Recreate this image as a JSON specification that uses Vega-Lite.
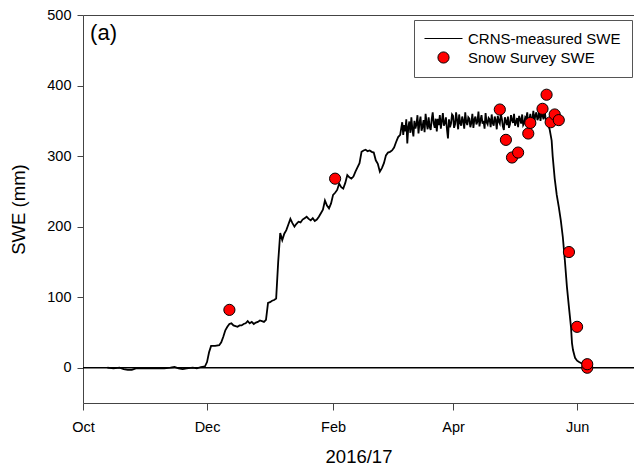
{
"$schema": "https://vega.github.io/schema/vega-lite/v6.json",
"width": 551, "height": 388,
"autosize": {"type": "none"},
"padding": {"left": 83, "top": 15, "right": 0, "bottom": 67},
"background": "white",
"config": {"font": "Liberation Sans", "view": {"stroke": null},
  "axis": {"grid": false, "domainColor": "#444", "tickColor": "#444", "labelColor": "black", "titleColor": "black", "labelFontSize": 14.5, "titleFontSize": 18.5, "titleFontWeight": "normal", "labelFont": "Liberation Sans", "titleFont": "Liberation Sans"}},
"resolve": {"axis": {"x": "independent"}},
"datasets": {
"zero": [{"v": 0}],
"panel": [{"label": "(a)"}],
"crns": [
{"date":"2016-10-13","swe":0},{"date":"2016-10-16","swe":-1},{"date":"2016-10-19","swe":0},{"date":"2016-10-21","swe":-2},{"date":"2016-10-23","swe":-3},{"date":"2016-10-25","swe":-3},{"date":"2016-10-27","swe":-1},{"date":"2016-10-31","swe":-1},{"date":"2016-11-05","swe":-1},{"date":"2016-11-10","swe":-1},{"date":"2016-11-13","swe":0},{"date":"2016-11-15","swe":1},{"date":"2016-11-17","swe":-1},{"date":"2016-11-19","swe":-2},{"date":"2016-11-21","swe":-1},{"date":"2016-11-24","swe":0},{"date":"2016-11-26","swe":-1},{"date":"2016-11-28","swe":1},{"date":"2016-11-30","swe":2},
{"date":"2016-12-01","swe":8},{"date":"2016-12-02","swe":22},{"date":"2016-12-03","swe":31},{"date":"2016-12-05","swe":31},{"date":"2016-12-07","swe":32},{"date":"2016-12-08","swe":36},{"date":"2016-12-09","swe":44},{"date":"2016-12-10","swe":53},{"date":"2016-12-11","swe":58},{"date":"2016-12-12","swe":62},{"date":"2016-12-13","swe":63},{"date":"2016-12-14","swe":60},{"date":"2016-12-15","swe":59},{"date":"2016-12-16","swe":58},{"date":"2016-12-17","swe":60},{"date":"2016-12-18","swe":60},{"date":"2016-12-19","swe":62},{"date":"2016-12-20","swe":63},{"date":"2016-12-21","swe":66},{"date":"2016-12-22","swe":63},{"date":"2016-12-23","swe":65},{"date":"2016-12-24","swe":62},{"date":"2016-12-25","swe":64},{"date":"2016-12-26","swe":65},{"date":"2016-12-27","swe":67},{"date":"2016-12-28","swe":66},{"date":"2016-12-29","swe":65},{"date":"2016-12-30","swe":68},{"date":"2016-12-31","swe":92},
{"date":"2017-01-01","swe":93},{"date":"2017-01-02","swe":95},{"date":"2017-01-03","swe":96},{"date":"2017-01-04","swe":98},{"date":"2017-01-05","swe":150},{"date":"2017-01-06","swe":191},{"date":"2017-01-07","swe":181},{"date":"2017-01-08","swe":190},{"date":"2017-01-09","swe":195},{"date":"2017-01-10","swe":203},{"date":"2017-01-11","swe":211},{"date":"2017-01-12","swe":205},{"date":"2017-01-13","swe":200},{"date":"2017-01-14","swe":204},{"date":"2017-01-15","swe":207},{"date":"2017-01-16","swe":206},{"date":"2017-01-17","swe":210},{"date":"2017-01-18","swe":212},{"date":"2017-01-19","swe":214},{"date":"2017-01-20","swe":211},{"date":"2017-01-21","swe":209},{"date":"2017-01-22","swe":212},{"date":"2017-01-23","swe":208},{"date":"2017-01-24","swe":210},{"date":"2017-01-25","swe":214},{"date":"2017-01-26","swe":219},{"date":"2017-01-27","swe":224},{"date":"2017-01-28","swe":237},{"date":"2017-01-29","swe":230},{"date":"2017-01-30","swe":226},{"date":"2017-01-31","swe":233},
{"date":"2017-02-01","swe":245},{"date":"2017-02-02","swe":248},{"date":"2017-02-03","swe":252},{"date":"2017-02-04","swe":261},{"date":"2017-02-05","swe":256},{"date":"2017-02-06","swe":254},{"date":"2017-02-07","swe":262},{"date":"2017-02-08","swe":273},{"date":"2017-02-09","swe":270},{"date":"2017-02-10","swe":268},{"date":"2017-02-11","swe":271},{"date":"2017-02-12","swe":278},{"date":"2017-02-13","swe":284},{"date":"2017-02-14","swe":290},{"date":"2017-02-15","swe":306},{"date":"2017-02-16","swe":308},{"date":"2017-02-17","swe":309},{"date":"2017-02-18","swe":307},{"date":"2017-02-19","swe":308},{"date":"2017-02-20","swe":306},{"date":"2017-02-21","swe":305},{"date":"2017-02-22","swe":294},{"date":"2017-02-23","swe":289},{"date":"2017-02-24","swe":278},{"date":"2017-02-25","swe":283},{"date":"2017-02-26","swe":290},{"date":"2017-02-27","swe":301},{"date":"2017-02-28","swe":305},
{"date":"2017-03-01","swe":306},{"date":"2017-03-02","swe":308},{"date":"2017-03-03","swe":312},{"date":"2017-03-04","swe":320},{"date":"2017-03-05","swe":327},{"date":"2017-03-06","swe":330},
{"date":"2017-03-07T00:00:00Z","swe":348},{"date":"2017-03-07T12:00:00Z","swe":330},{"date":"2017-03-08T00:00:00Z","swe":344},{"date":"2017-03-08T12:00:00Z","swe":335},{"date":"2017-03-09T00:00:00Z","swe":352},{"date":"2017-03-09T12:00:00Z","swe":318},{"date":"2017-03-10T00:00:00Z","swe":341},{"date":"2017-03-10T12:00:00Z","swe":349},{"date":"2017-03-11T00:00:00Z","swe":333},{"date":"2017-03-11T12:00:00Z","swe":355},{"date":"2017-03-12T00:00:00Z","swe":338},{"date":"2017-03-12T12:00:00Z","swe":328},{"date":"2017-03-13T00:00:00Z","swe":350},{"date":"2017-03-13T12:00:00Z","swe":339},{"date":"2017-03-14T00:00:00Z","swe":345},{"date":"2017-03-14T12:00:00Z","swe":358},{"date":"2017-03-15T00:00:00Z","swe":332},{"date":"2017-03-15T12:00:00Z","swe":347},{"date":"2017-03-16T00:00:00Z","swe":356},{"date":"2017-03-16T12:00:00Z","swe":336},{"date":"2017-03-17T00:00:00Z","swe":342},{"date":"2017-03-17T12:00:00Z","swe":351},{"date":"2017-03-18T00:00:00Z","swe":334},{"date":"2017-03-18T12:00:00Z","swe":360},{"date":"2017-03-19T00:00:00Z","swe":347},{"date":"2017-03-19T12:00:00Z","swe":338},{"date":"2017-03-20T00:00:00Z","swe":355},{"date":"2017-03-20T12:00:00Z","swe":341},{"date":"2017-03-21T00:00:00Z","swe":337},{"date":"2017-03-21T12:00:00Z","swe":352},{"date":"2017-03-22T00:00:00Z","swe":362},{"date":"2017-03-22T12:00:00Z","swe":346},{"date":"2017-03-23T00:00:00Z","swe":340},{"date":"2017-03-23T12:00:00Z","swe":353},{"date":"2017-03-24T00:00:00Z","swe":335},{"date":"2017-03-24T12:00:00Z","swe":353},{"date":"2017-03-25T00:00:00Z","swe":344},{"date":"2017-03-25T12:00:00Z","swe":358},{"date":"2017-03-26T00:00:00Z","swe":339},{"date":"2017-03-26T12:00:00Z","swe":350},{"date":"2017-03-27T00:00:00Z","swe":361},{"date":"2017-03-27T12:00:00Z","swe":343},{"date":"2017-03-28T00:00:00Z","swe":347},{"date":"2017-03-28T12:00:00Z","swe":355},{"date":"2017-03-29T00:00:00Z","swe":338},{"date":"2017-03-29T12:00:00Z","swe":325},{"date":"2017-03-30T00:00:00Z","swe":352},{"date":"2017-03-30T12:00:00Z","swe":341},{"date":"2017-03-31T00:00:00Z","swe":346},{"date":"2017-03-31T12:00:00Z","swe":359},
{"date":"2017-04-01T00:00:00Z","swe":357},{"date":"2017-04-01T12:00:00Z","swe":340},{"date":"2017-04-02T00:00:00Z","swe":345},{"date":"2017-04-02T12:00:00Z","swe":362},{"date":"2017-04-03T00:00:00Z","swe":351},{"date":"2017-04-03T12:00:00Z","swe":338},{"date":"2017-04-04T00:00:00Z","swe":359},{"date":"2017-04-04T12:00:00Z","swe":347},{"date":"2017-04-05T00:00:00Z","swe":343},{"date":"2017-04-05T12:00:00Z","swe":356},{"date":"2017-04-06T00:00:00Z","swe":350},{"date":"2017-04-06T12:00:00Z","swe":339},{"date":"2017-04-07T00:00:00Z","swe":362},{"date":"2017-04-07T12:00:00Z","swe":348},{"date":"2017-04-08T00:00:00Z","swe":344},{"date":"2017-04-08T12:00:00Z","swe":355},{"date":"2017-04-09T00:00:00Z","swe":353},{"date":"2017-04-09T12:00:00Z","swe":341},{"date":"2017-04-10T00:00:00Z","swe":347},{"date":"2017-04-10T12:00:00Z","swe":360},{"date":"2017-04-11T00:00:00Z","swe":340},{"date":"2017-04-11T12:00:00Z","swe":352},{"date":"2017-04-12T00:00:00Z","swe":356},{"date":"2017-04-12T12:00:00Z","swe":345},{"date":"2017-04-13T00:00:00Z","swe":349},{"date":"2017-04-13T12:00:00Z","swe":363},{"date":"2017-04-14T00:00:00Z","swe":342},{"date":"2017-04-14T12:00:00Z","swe":351},{"date":"2017-04-15T00:00:00Z","swe":358},{"date":"2017-04-15T12:00:00Z","swe":346},{"date":"2017-04-16T00:00:00Z","swe":350},{"date":"2017-04-16T12:00:00Z","swe":339},{"date":"2017-04-17T00:00:00Z","swe":361},{"date":"2017-04-17T12:00:00Z","swe":348},{"date":"2017-04-18T00:00:00Z","swe":345},{"date":"2017-04-18T12:00:00Z","swe":354},{"date":"2017-04-19T00:00:00Z","swe":352},{"date":"2017-04-19T12:00:00Z","swe":341},{"date":"2017-04-20T00:00:00Z","swe":359},{"date":"2017-04-20T12:00:00Z","swe":347},{"date":"2017-04-21T00:00:00Z","swe":343},{"date":"2017-04-21T12:00:00Z","swe":356},{"date":"2017-04-22T00:00:00Z","swe":351},{"date":"2017-04-22T12:00:00Z","swe":338},{"date":"2017-04-23T00:00:00Z","swe":357},{"date":"2017-04-23T12:00:00Z","swe":349},{"date":"2017-04-24T00:00:00Z","swe":346},{"date":"2017-04-24T12:00:00Z","swe":360},{"date":"2017-04-25T00:00:00Z","swe":353},{"date":"2017-04-25T12:00:00Z","swe":342},{"date":"2017-04-26T00:00:00Z","swe":337},{"date":"2017-04-26T12:00:00Z","swe":355},{"date":"2017-04-27T00:00:00Z","swe":349},{"date":"2017-04-27T12:00:00Z","swe":344},{"date":"2017-04-28T00:00:00Z","swe":356},{"date":"2017-04-28T12:00:00Z","swe":340},{"date":"2017-04-29T00:00:00Z","swe":345},{"date":"2017-04-29T12:00:00Z","swe":358},{"date":"2017-04-30T00:00:00Z","swe":351},{"date":"2017-04-30T12:00:00Z","swe":347},
{"date":"2017-05-01T00:00:00Z","swe":360},{"date":"2017-05-01T12:00:00Z","swe":343},{"date":"2017-05-02T00:00:00Z","swe":348},{"date":"2017-05-02T12:00:00Z","swe":354},{"date":"2017-05-03T00:00:00Z","swe":341},{"date":"2017-05-03T12:00:00Z","swe":357},{"date":"2017-05-04T00:00:00Z","swe":352},{"date":"2017-05-04T12:00:00Z","swe":346},{"date":"2017-05-05T00:00:00Z","swe":359},{"date":"2017-05-05T12:00:00Z","swe":344},{"date":"2017-05-06T00:00:00Z","swe":347},{"date":"2017-05-06T12:00:00Z","swe":355},{"date":"2017-05-07T00:00:00Z","swe":353},{"date":"2017-05-07T12:00:00Z","swe":362},{"date":"2017-05-08T00:00:00Z","swe":345},{"date":"2017-05-08T12:00:00Z","swe":350},{"date":"2017-05-09T00:00:00Z","swe":360},{"date":"2017-05-09T12:00:00Z","swe":348},{"date":"2017-05-10T00:00:00Z","swe":352},{"date":"2017-05-10T12:00:00Z","swe":364},{"date":"2017-05-11T00:00:00Z","swe":349},{"date":"2017-05-11T12:00:00Z","swe":358},{"date":"2017-05-12T00:00:00Z","swe":362},{"date":"2017-05-12T12:00:00Z","swe":351},{"date":"2017-05-13T00:00:00Z","swe":355},{"date":"2017-05-13T12:00:00Z","swe":367},{"date":"2017-05-14T00:00:00Z","swe":350},{"date":"2017-05-14T12:00:00Z","swe":361},{"date":"2017-05-15T00:00:00Z","swe":358},{"date":"2017-05-15T12:00:00Z","swe":352},{"date":"2017-05-16T00:00:00Z","swe":366},{"date":"2017-05-16T12:00:00Z","swe":354},{"date":"2017-05-17T00:00:00Z","swe":350},{"date":"2017-05-17T12:00:00Z","swe":345},{"date":"2017-05-18T00:00:00Z","swe":342},{"date":"2017-05-18T12:00:00Z","swe":338},{"date":"2017-05-19T00:00:00Z","swe":330},{"date":"2017-05-19T12:00:00Z","swe":322},
{"date":"2017-05-20","swe":300},{"date":"2017-05-21","swe":268},{"date":"2017-05-22","swe":245},{"date":"2017-05-23","swe":228},{"date":"2017-05-24","swe":209},{"date":"2017-05-25","swe":185},{"date":"2017-05-26","swe":152},{"date":"2017-05-27","swe":115},{"date":"2017-05-28","swe":86},{"date":"2017-05-29","swe":58},{"date":"2017-05-29T12:00:00Z","swe":35},{"date":"2017-05-30","swe":25},{"date":"2017-05-31","swe":14},{"date":"2017-06-01","swe":10},{"date":"2017-06-02","swe":8},{"date":"2017-06-04","swe":5},{"date":"2017-06-05","swe":4},{"date":"2017-06-07","swe":2},{"date":"2017-06-08","swe":1}
],
"survey": [
{"date":"2016-12-12","swe":82,"series":"Snow Survey SWE"},{"date":"2017-02-02","swe":268,"series":"Snow Survey SWE"},{"date":"2017-04-24","swe":366,"series":"Snow Survey SWE"},{"date":"2017-04-27","swe":323,"series":"Snow Survey SWE"},{"date":"2017-04-30","swe":298,"series":"Snow Survey SWE"},{"date":"2017-05-03","swe":305,"series":"Snow Survey SWE"},{"date":"2017-05-08","swe":332,"series":"Snow Survey SWE"},{"date":"2017-05-09","swe":347,"series":"Snow Survey SWE"},{"date":"2017-05-15","swe":367,"series":"Snow Survey SWE"},{"date":"2017-05-17","swe":387,"series":"Snow Survey SWE"},{"date":"2017-05-19","swe":348,"series":"Snow Survey SWE"},{"date":"2017-05-21","swe":359,"series":"Snow Survey SWE"},{"date":"2017-05-23","swe":351,"series":"Snow Survey SWE"},{"date":"2017-05-28","swe":164,"series":"Snow Survey SWE"},{"date":"2017-06-01","swe":58,"series":"Snow Survey SWE"},{"date":"2017-06-06","swe":0,"series":"Snow Survey SWE"},{"date":"2017-06-06","swe":5,"series":"Snow Survey SWE"}
]
},
"layer": [
{"data": {"name": "zero"}, "mark": {"type": "rule", "color": "black", "strokeWidth": 1.5}, "encoding": {"y": {"field": "v", "type": "quantitative"}}},
{"data": {"name": "crns"}, "mark": {"type": "line", "color": "black", "strokeWidth": 1.8, "interpolate": "linear"},
 "encoding": {
  "x": {"field": "date", "type": "temporal",
    "scale": {"type": "utc", "domain": [{"year": 2016, "month": 10, "date": 1, "utc": true}, {"year": 2017, "month": 6, "date": 29, "utc": true}]},
    "axis": {"title": "2016/17", "labelExpr": "utcFormat(datum.value, '%b')", "values": [{"year": 2016, "month": 10, "date": 1, "utc": true}, {"year": 2016, "month": 12, "date": 1, "utc": true}, {"year": 2017, "month": 2, "date": 1, "utc": true}, {"year": 2017, "month": 4, "date": 1, "utc": true}, {"year": 2017, "month": 6, "date": 1, "utc": true}], "tickSize": 7, "labelPadding": 10, "titlePadding": 14, "labelFlush": false, "labelOverlap": false}},
  "y": {"field": "swe", "type": "quantitative", "scale": {"domain": [-50, 500], "nice": false, "zero": false},
    "axis": {"title": "SWE (mm)", "values": [0, 100, 200, 300, 400, 500], "tickSize": 6, "labelPadding": 6, "titlePadding": 18}}
 }},
{"data": {"name": "panel"}, "mark": {"type": "text", "align": "left", "baseline": "alphabetic", "fontSize": 22, "font": "Liberation Sans", "color": "black"},
 "encoding": {
  "x": {"datum": {"year": 2016, "month": 10, "date": 4, "hours": 12, "utc": true}, "type": "temporal", "axis": {"orient": "top", "labels": false, "ticks": false, "title": null, "domain": true, "domainColor": "#444"}},
  "y": {"datum": 464, "type": "quantitative"},
  "text": {"field": "label", "type": "nominal"}
 }},
{"data": {"name": "survey"}, "mark": {"type": "point", "filled": true, "stroke": "black", "strokeWidth": 1, "size": 125, "opacity": 1},
 "encoding": {
  "x": {"field": "date", "type": "temporal", "axis": null},
  "y": {"field": "swe", "type": "quantitative"},
  "color": {"field": "series", "type": "nominal", "scale": {"domain": ["CRNS-measured SWE", "Snow Survey SWE"], "range": ["black", "red"]},
    "legend": {"title": null, "orient": "none", "legendX": 331, "legendY": 5, "strokeColor": "#555", "fillColor": "white", "padding": 11, "labelFontSize": 15, "labelFont": "Liberation Sans", "labelColor": "black", "symbolSize": 125, "symbolStrokeWidth": 1, "symbolOffset": 11, "labelOffset": 17, "rowPadding": 2, "labelLimit": 300}},
  "shape": {"field": "series", "type": "nominal", "scale": {"domain": ["CRNS-measured SWE", "Snow Survey SWE"], "range": ["M-3.4,0L3.4,0", "circle"]}}
 }}
]
}
